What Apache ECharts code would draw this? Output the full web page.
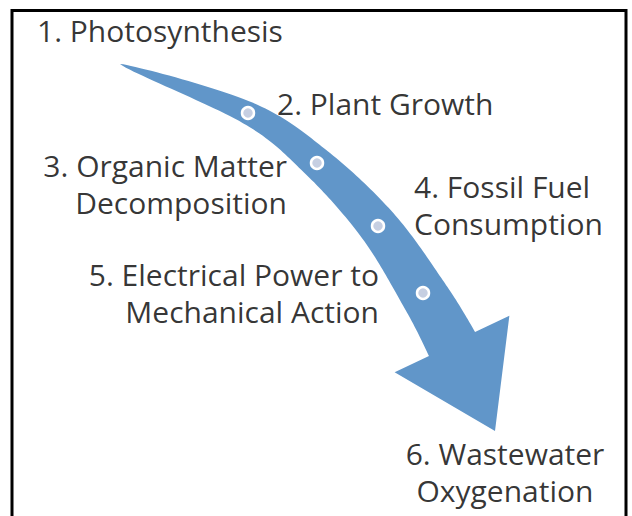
<!DOCTYPE html>
<html>
<head>
<meta charset="utf-8">
<script src="https://cdn.jsdelivr.net/npm/echarts@6/dist/echarts.min.js"></script>
<style>
  html, body { margin: 0; padding: 0; background: #fff; }
  #main { width: 632px; height: 516px; }
</style>
</head>
<body>
<div id="main"></div>
<script>
// step names, in order along the arrow
var steps = [
    '1. Photosynthesis',
    '2. Plant Growth',
    '3. Organic Matter\nDecomposition',
    '4. Fossil Fuel\nConsumption',
    '5. Electrical Power to\nMechanical Action',
    '6. Wastewater\nOxygenation'
];
// where each step name sits in the diagram space (0..632 x 0..516)
var stepX = [37, 277, 287, 414, 379, 505];
var stepY = [30, 103, 184, 205, 293, 472];
var stepAlign = ['left', 'left', 'right', 'left', 'right', 'center'];

// arrow centre line (tail .. head base), the inner knots carry the dots
var pathX = [120, 248, 317, 378, 423, 452];
var pathY = [64, 113, 163, 226, 293, 344];
var tipX = 495, tipY = 431;

loadCycle();

function loadCycle() {

    var chart = echarts.init(document.getElementById('main'), null, {renderer: 'svg'});

    var labelData = steps.map(function (name, i) {
        return {
            value: [stepX[i], stepY[i]],
            name: name,
            label: {align: stepAlign[i]}
        };
    });

    var dotData = [];
    for (var i = 1; i < pathX.length - 1; i++) {
        dotData.push([pathX[i], pathY[i]]);
    }

    function catmull(p0, p1, p2, p3, t) {
        var t2 = t * t, t3 = t2 * t;
        return [0, 1].map(function (k) {
            return 0.5 * ((2 * p1[k]) + (-p0[k] + p2[k]) * t +
                (2 * p0[k] - 5 * p1[k] + 4 * p2[k] - p3[k]) * t2 +
                (-p0[k] + 3 * p1[k] - 3 * p2[k] + p3[k]) * t3);
        });
    }

    function renderArrow(params, api) {
        var pts = pathX.map(function (x, i) { return api.coord([x, pathY[i]]); });
        var tip = api.coord([tipX, tipY]);
        var n = pts.length;
        var ext = [pts[0]].concat(pts, [tip]);
        var line = [];
        for (var s = 0; s < n - 1; s++) {
            for (var j = 0; j < 24; j++) {
                line.push(catmull(ext[s], ext[s + 1], ext[s + 2], ext[s + 3], j / 24));
            }
        }
        line.push(pts[n - 1]);

        var len = [0];
        for (var a = 1; a < line.length; a++) {
            len.push(len[a - 1] + Math.hypot(line[a][0] - line[a - 1][0], line[a][1] - line[a - 1][1]));
        }
        var total = len[len.length - 1];
        var halfW = 26;
        var left = [], right = [];
        for (var b = 0; b < line.length; b++) {
            var p = line[b];
            var q0 = line[Math.max(b - 1, 0)], q1 = line[Math.min(b + 1, line.length - 1)];
            var dx = q1[0] - q0[0], dy = q1[1] - q0[1];
            var d = Math.hypot(dx, dy) || 1;
            var nx = -dy / d, ny = dx / d;
            var w = halfW * Math.pow(len[b] / total, 0.7);
            left.push([p[0] + nx * w, p[1] + ny * w]);
            right.push([p[0] - nx * w, p[1] - ny * w]);
        }

        var base = pts[n - 1];
        var hx = tip[0] - base[0], hy = tip[1] - base[1];
        var hd = Math.hypot(hx, hy);
        var hnx = -hy / hd, hny = hx / hd;
        var wing = 64;
        var poly = left.concat(
            [[base[0] + hnx * wing, base[1] + hny * wing], tip, [base[0] - hnx * wing, base[1] - hny * wing]],
            right.reverse()
        );
        return {
            type: 'polygon',
            shape: {points: poly},
            style: {fill: '#6196c9', stroke: null}
        };
    }

    var option = {
        animation: false,
        backgroundColor: '#fff',
        grid: {left: 0, right: 0, top: 0, bottom: 0},
        xAxis: {type: 'value', min: 0, max: 632, show: false},
        yAxis: {type: 'value', min: 0, max: 516, inverse: true, show: false},
        graphic: [{
            type: 'rect',
            shape: {x: 12, y: 10.5, width: 614, height: 530},
            style: {fill: null, stroke: '#000', lineWidth: 3},
            silent: true,
            z: 100
        }],
        series: [{
            type: 'custom',
            silent: true,
            renderItem: renderArrow,
            data: [[0, 0]],
            z: 1
        }, {
            type: 'scatter',
            silent: true,
            symbol: 'circle',
            symbolSize: 12,
            itemStyle: {color: '#c6cfe2', borderColor: '#fff', borderWidth: 2.5, opacity: 1},
            data: dotData,
            z: 2
        }, {
            type: 'scatter',
            silent: true,
            symbolSize: 0,
            data: labelData,
            label: {
                show: true,
                position: [0, 0],
                verticalAlign: 'middle',
                formatter: '{b}',
                color: '#000',
                fontFamily: 'Open Sans',
                fontSize: 30,
                lineHeight: 37
            },
            z: 3
        }]
    };

    chart.setOption(option);
}
</script>
</body>
</html>
